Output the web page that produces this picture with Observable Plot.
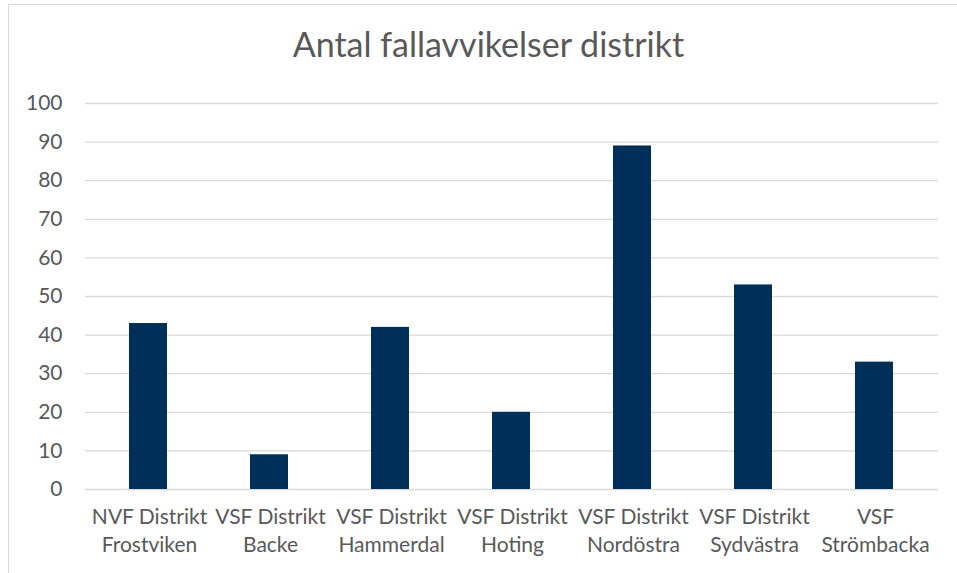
<!DOCTYPE html>
<html>
<head>
<meta charset="utf-8">
<script src="https://cdn.jsdelivr.net/npm/d3@7"></script>
<script src="https://cdn.jsdelivr.net/npm/@observablehq/plot@0.6"></script>
<style>
  html, body { margin: 0; padding: 0; background: #fff; overflow: hidden; }
  #wrap { position: relative; width: 957px; height: 573px; overflow: hidden; font-family: Lato, "Open Sans", sans-serif; }
  #frame { position: absolute; left: 8px; top: 4px; width: 1000px; height: 700px; border-left: 1.5px solid #d9d9d9; border-top: 1.5px solid #d9d9d9; }
  #title { position: absolute; left: 0; width: 977px; top: 23px; text-align: center; font-size: 34px; color: #595959; }
  #chart { position: absolute; left: 0; top: 0; }
</style>
</head>
<body>
<div id="wrap">
  <div id="frame"></div>
  <div id="title">Antal fallavvikelser distrikt</div>
  <div id="chart"></div>
</div>
<script>
const categories = [
  "NVF Distrikt\nFrostviken",
  "VSF Distrikt\nBacke",
  "VSF Distrikt\nHammerdal",
  "VSF Distrikt\nHoting",
  "VSF Distrikt\nNordöstra",
  "VSF Distrikt\nSydvästra",
  "VSF\nStrömbacka"
];
const values = [43, 9, 42, 20, 89, 53, 33];
const yTicks = [0, 10, 20, 30, 40, 50, 60, 70, 80, 90, 100];

const data = categories.map((c, i) => ({category: c, value: values[i]}));

const chart = Plot.plot({
  width: 957,
  height: 573,
  marginTop: 103,
  marginBottom: 84,
  marginLeft: 85,
  marginRight: 19,
  style: {background: "transparent", fontFamily: "Lato, 'Open Sans', sans-serif", fontSize: "21px", color: "#595959", overflow: "visible"},
  x: {domain: categories, paddingInner: 0.688, paddingOuter: 0.344, label: null},
  y: {domain: [0, 100], label: null},
  marks: [
    Plot.gridY(yTicks, {stroke: "#d9d9d9", strokeOpacity: 1, strokeWidth: 1.3}),
    Plot.barY(data, {x: "category", y: "value", fill: "#00305a", dx: -1}),
    Plot.axisY(yTicks, {tickSize: 0, tickPadding: 23, fontSize: 21, fill: "#595959", label: null}),
    Plot.axisX({tickSize: 0, tickPadding: 15, fontSize: 21, fill: "#595959", lineHeight: 1.33, label: null})
  ]
});
document.getElementById("chart").appendChild(chart);
</script>
</body>
</html>
